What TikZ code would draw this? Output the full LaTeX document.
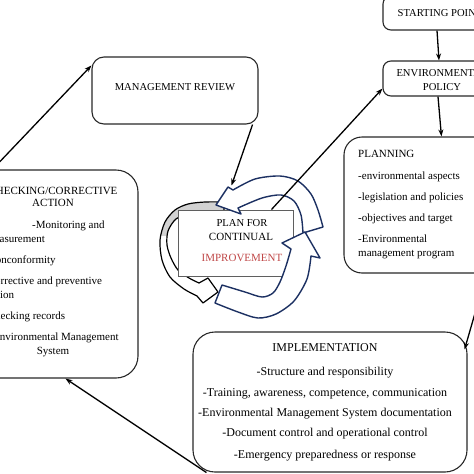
\documentclass[tikz,border=0pt]{standalone}
\usepackage{fontspec}
\setmainfont{Liberation Serif}
\usetikzlibrary{calc,arrows.meta}
\definecolor{boxc}{RGB}{40,40,40}
\definecolor{navyc}{RGB}{28,48,98}
\definecolor{redc}{RGB}{192,72,72}
\definecolor{rectc}{RGB}{95,95,95}
\begin{document}
\begin{tikzpicture}[x=1pt,y=-1pt,
  box/.style={draw=boxc,line width=1.1pt,fill=white,inner sep=0pt},
  conn/.style={draw=black,line width=1.3pt,-{Stealth[length=7pt,width=5pt]}},
  txt/.style={inner sep=0pt,font=\fontsize{11}{13}\selectfont},
  txtS/.style={inner sep=0pt,font=\fontsize{10.6}{13}\selectfont},
  txtL/.style={inner sep=0pt,font=\fontsize{12}{14}\selectfont},
  bluearrow/.style={draw=navyc,line width=1.4pt,fill=white,line join=round},
  blackarrow/.style={draw=black,line width=1.2pt,fill=white,line join=round}]
\useasboundingbox (0,0) rectangle (474,474);
\clip (0,0) rectangle (474,474);

% boxes
\node[box,rounded corners=8pt,minimum width=114pt,minimum height=34pt] (start) at (440,13) {};
\node[box,rounded corners=8pt,minimum width=114pt,minimum height=35pt] (env) at (440,78.5) {};
\node[box,rounded corners=12pt,minimum width=166pt,minimum height=67pt] (mgmt) at (175,90.5) {};
\node[box,rounded corners=18pt,minimum width=196pt,minimum height=136pt] (plan) at (442,205) {};
\node[box,rounded corners=22pt,minimum width=170pt,minimum height=208pt] (chk) at (53,274) {};
\node[box,rounded corners=22pt,minimum width=274pt,minimum height=140pt] (impl) at (330,402) {};

% texts
\node[txtS,anchor=base] (startT) at (440,16) {STARTING POINT};
\node[txtS,anchor=base] (envT1) at (442,76.5) {ENVIRONMENTAL};
\node[txtS,anchor=base] (envT2) at (442,90.5) {POLICY};
\node[txtS,anchor=base] (mgmtT) at (175,90.5) {MANAGEMENT REVIEW};

\node[txt,anchor=base west] (planT1) at (358,157.5) {PLANNING};
\node[txt,anchor=base west] (planT2) at (358,179.5) {-environmental aspects};
\node[txt,anchor=base west] (planT3) at (358,200.5) {-legislation and policies};
\node[txt,anchor=base west] (planT4) at (358,221.5) {-objectives and target};
\node[txt,anchor=base west] (planT5) at (358,242.5) {-Environmental};
\node[txt,anchor=base west] (planT6) at (358,256.5) {management program};

\node[txt,anchor=base] (chkT1) at (53,194.5) {CHECKING/CORRECTIVE};
\node[txt,anchor=base] (chkT2) at (53,206.5) {ACTION};
\node[txt,anchor=base west] (chkT3) at (32,228.5) {-Monitoring and};
\node[txt,anchor=base west] (chkT4) at (-14,242.5) {measurement};
\node[txt,anchor=base west] (chkT5) at (-16,263.5) {-Nonconformity};
\node[txt,anchor=base west] (chkT6) at (-16,284.5) {-Corrective and preventive};
\node[txt,anchor=base west] (chkT7) at (-13,298.5) {action};
\node[txt,anchor=base west] (chkT8) at (-16,319.5) {-Checking records};
\node[txt,anchor=base] (chkT9) at (54,340.5) {-Environmental Management};
\node[txt,anchor=base] (chkT10) at (53,354.5) {System};

\node[txtL,anchor=base] (implT1) at (325,351.5) {IMPLEMENTATION};
\node[txtL,anchor=base] (implT2) at (325,375.5) {-Structure and responsibility};
\node[txtL,anchor=base] (implT3) at (325,396.5) {-Training, awareness, competence, communication};
\node[txtL,anchor=base] (implT4) at (325,416.5) {-Environmental Management System documentation};
\node[txtL,anchor=base] (implT5) at (325,436.5) {-Document control and operational control};
\node[txtL,anchor=base] (implT6) at (325,458.5) {-Emergency preparedness or response};

% central cycle
\draw[blackarrow,path picture={\fill[gray!35] (150,180) rectangle (235,236);}]
  plot[smooth] coordinates {(224,202) (205,202) (188,204) (175,210) (165,222) (160,240) (162,260) (170,277) (184,289) (197,296)}
  -- (203,303) -- (218,292) -- (208,278) -- (199,283)
  -- plot[smooth] coordinates {(199,283) (189,278) (178,270) (171,258) (167,245) (168,231) (176,219) (190,213) (205,211) (224,211)} -- cycle;

\node[draw=rectc,line width=1pt,fill=white,inner sep=0pt,minimum width=115pt,minimum height=66pt] (pfc) at (235.5,243) {};

\draw[bluearrow] (216,205) -- (228,187) -- (233,190)
  -- plot[smooth] coordinates {(233,190) (255,179) (280,176) (298,181) (311,194) (318,210) (323,227)}
  -- (303,233)
  -- plot[smooth] coordinates {(303,233) (301,215) (294,201) (281,195) (262,198) (238,208)}
  -- (241,214) -- cycle;

\draw[bluearrow] (222,285)
  -- plot[smooth] coordinates {(222,285) (245,292) (262,297) (273,293) (280,282) (286,266) (291,249)}
  -- (282,243) -- (305,232) -- (320,258) -- (311,256)
  -- plot[smooth] coordinates {(311,256) (307,279) (294,301) (276,314) (258,318) (238,312) (215,303)}
  -- cycle;

\node[txtS,anchor=base] (pfcT1) at (242,226.5) {PLAN FOR};
\node[txt,anchor=base] (pfcT2) at (241,240.5) {CONTINUAL};
\node[txt,anchor=base,text=redc] (pfcT3) at (242,261.5) {IMPROVEMENT};

% connectors
\coordinate (headTip) at ($(pfc.north west)+(54,-24)$);
\draw[conn] ([xshift=-3pt]start.south) -- ([xshift=-1pt]env.north);
\draw[conn] ([xshift=-2pt]env.south) -- ($(plan.north west)+(98,0)$);
\draw[conn] ($(pfc.north west)+(94,0)$) -- ($(env.south west)+(0,-8)$);
\draw[conn] ($(chk.north west)+(25,0)$) -- ($(mgmt.north west)+(0,9)$);
\draw[conn] ($(mgmt.south east)+(-6,0)$) -- (headTip);
\draw[conn] ($(plan.south west)+(143,0)$) -- ($(impl.north east)+(-3,18)$);
\draw[conn] ($(impl.south west)+(14,0)$) -- ($(chk.south west)+(98,0)$);
\end{tikzpicture}
\end{document}
